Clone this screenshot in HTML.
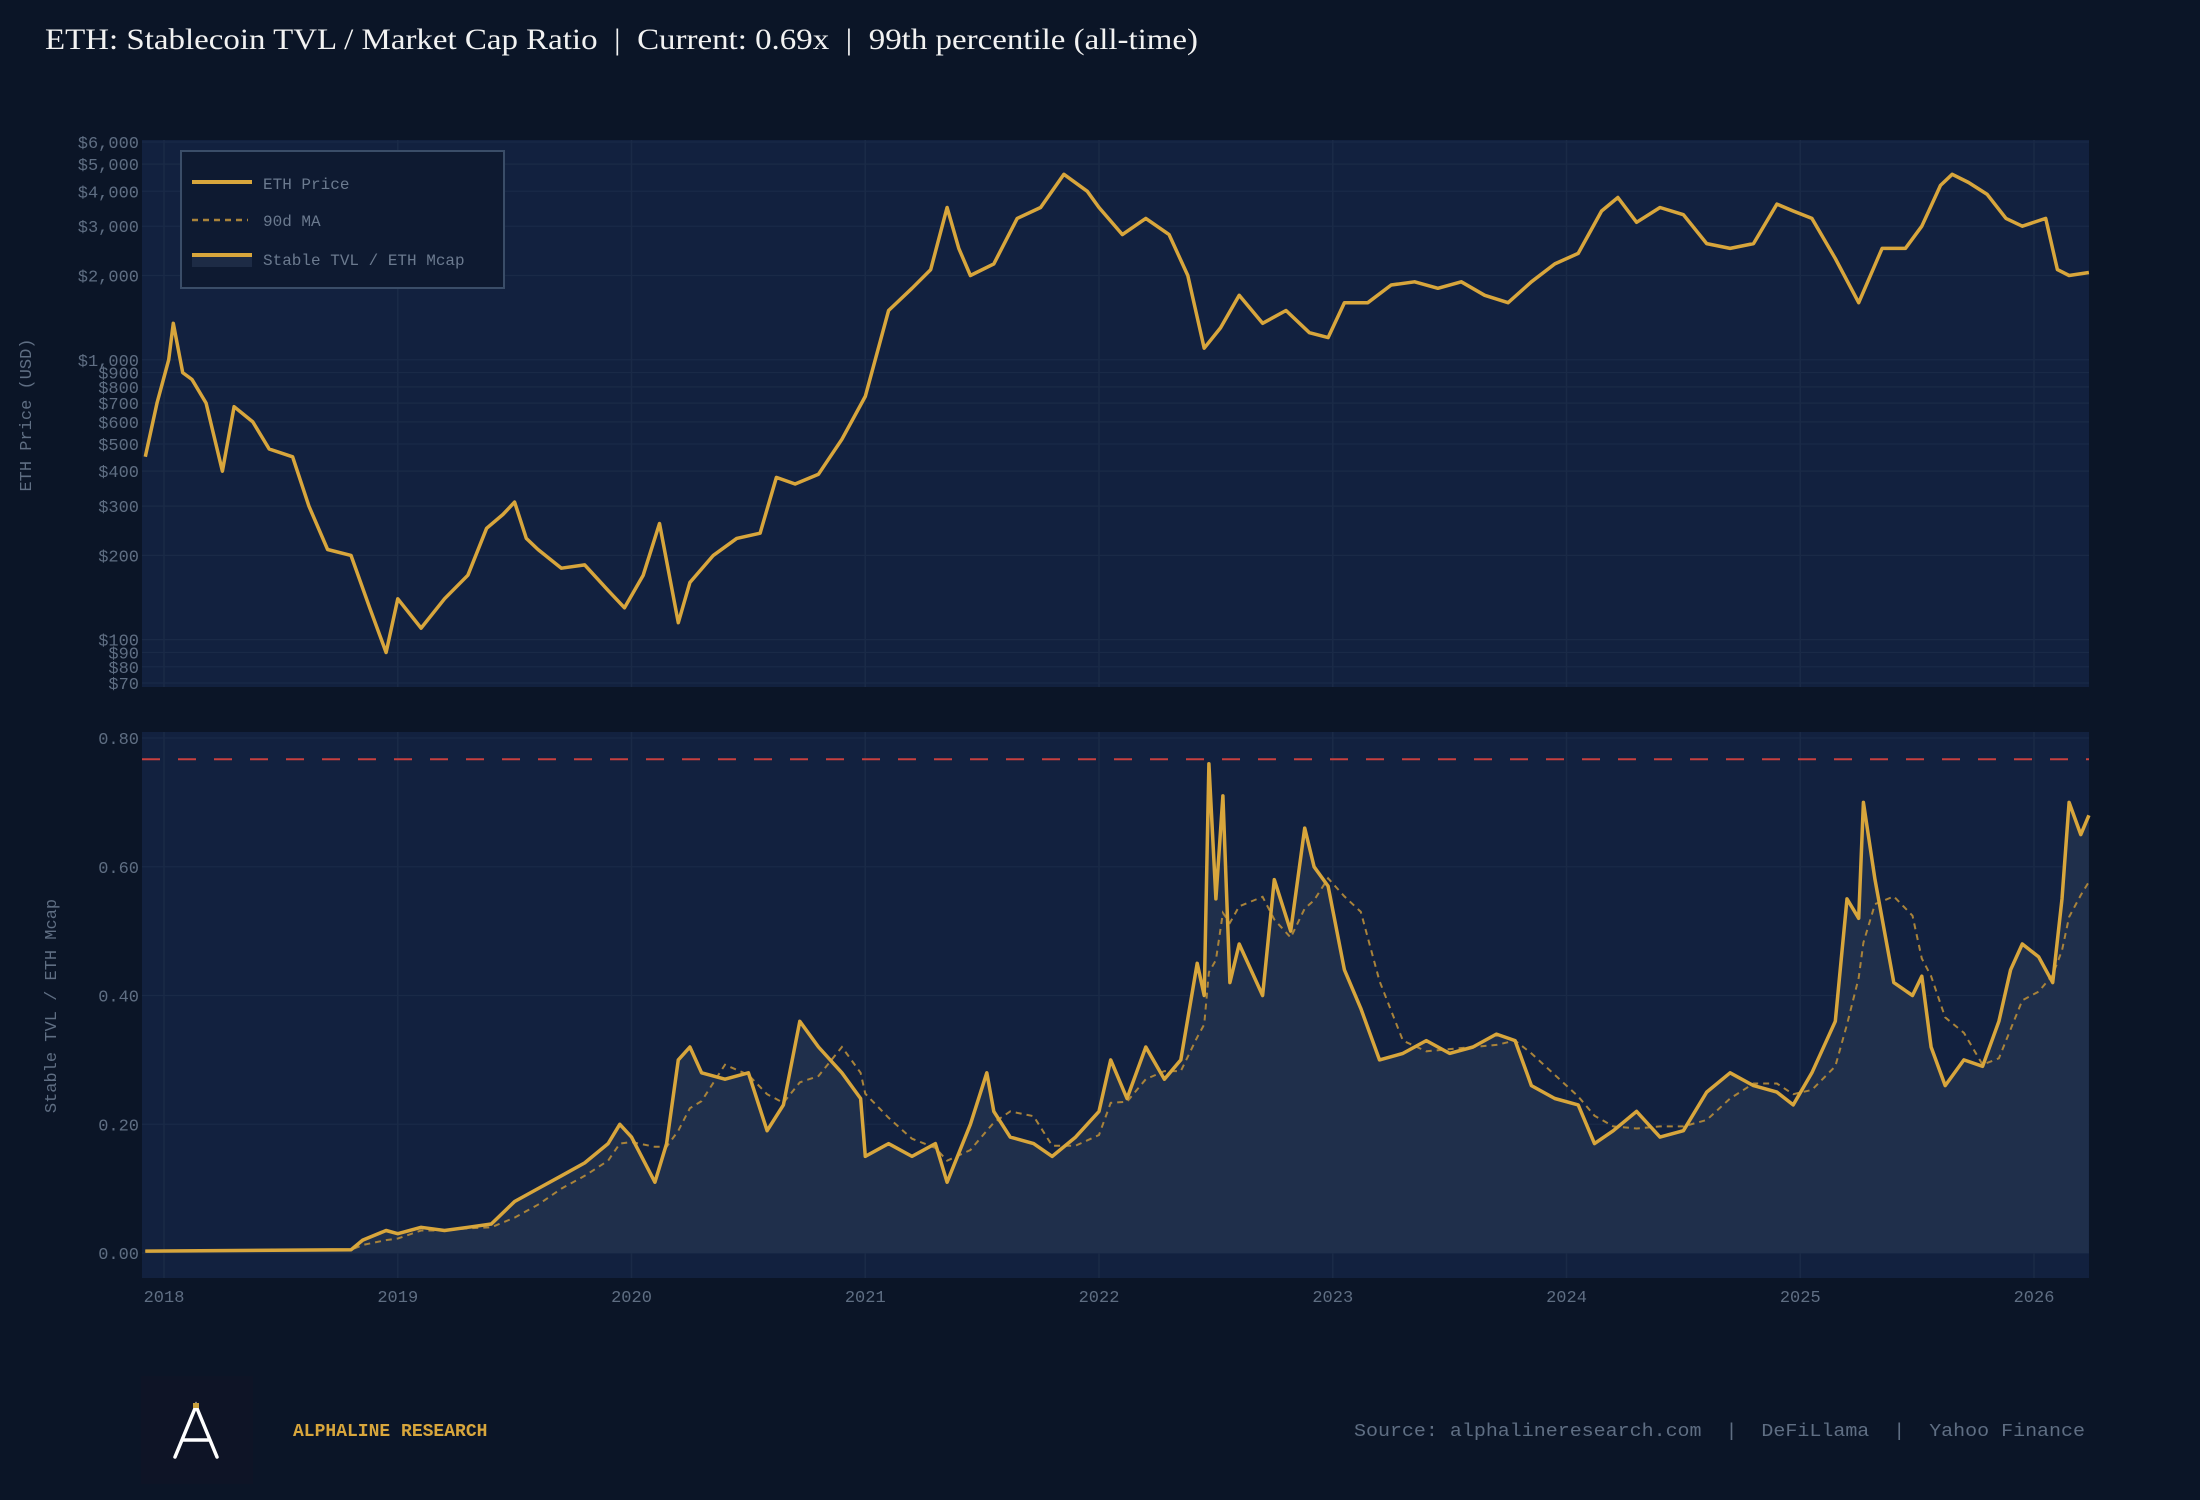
<!DOCTYPE html>
<html><head><meta charset="utf-8"><style>
html,body{margin:0;padding:0;background:#0b1527;}
svg{display:block;}
text{font-family:"Liberation Mono",monospace;}
.pre{white-space:pre;}
</style></head><body>
<svg id="chart" width="2200" height="1500" viewBox="0 0 2200 1500" xmlns="http://www.w3.org/2000/svg">
<rect x="0" y="0" width="2200" height="1500" fill="#0b1527"/>
<text class="pre" x="45" y="49" font-size="30" fill="#f2f2f2" textLength="1153" lengthAdjust="spacingAndGlyphs" style="font-family:'Liberation Serif',serif">ETH: Stablecoin TVL / Market Cap Ratio  |  Current: 0.69x  |  99th percentile (all-time)</text>
<rect x="142" y="140" width="1947" height="547" fill="#12213f"/>
<rect x="142" y="732" width="1947" height="546" fill="#12213f"/>
<g id="grid"></g>
<g id="axes"></g>
<g id="series"></g>
<text transform="translate(31,415) rotate(-90)" text-anchor="middle" font-size="17" fill="#5f6e83">ETH Price (USD)</text>
<text transform="translate(56,1006) rotate(-90)" text-anchor="middle" font-size="17" fill="#5f6e83">Stable TVL / ETH Mcap</text>
<g>
<rect x="181" y="151" width="323" height="137" fill="#0e1a31" stroke="#3a4d68" stroke-width="2"/>
<line x1="192" y1="182" x2="252" y2="182" stroke="#d8a63c" stroke-width="4"/>
<text x="263" y="189" font-size="16" fill="#6b7a8f">ETH Price</text>
<line x1="192" y1="220" x2="248" y2="220" stroke="#a9833a" stroke-width="2.5" stroke-dasharray="6,5"/>
<text x="263" y="226" font-size="16" fill="#6b7a8f">90d MA</text>
<rect x="192" y="255" width="60" height="12" fill="#1d2b45"/>
<line x1="192" y1="255" x2="252" y2="255" stroke="#d8a63c" stroke-width="4"/>
<text x="263" y="265" font-size="16" fill="#6b7a8f">Stable TVL / ETH Mcap</text>
</g>
<g>
<rect x="141" y="1376" width="112" height="108" fill="#0e1426"/>
<path d="M175 1457 L196 1406 L217 1457 M182 1440 L210 1440" stroke="#ffffff" stroke-width="3.5" fill="none" stroke-linecap="round"/>
<rect x="193" y="1403" width="6" height="5" fill="#c9a13e"/>
<text x="293" y="1436" font-size="18" font-weight="bold" fill="#d8a63c">ALPHALINE RESEARCH</text>
<text class="pre" x="1354" y="1436" font-size="18" fill="#5f6e83" textLength="731" lengthAdjust="spacingAndGlyphs">Source: alphalineresearch.com  |  DeFiLlama  |  Yahoo Finance</text>
</g>
</svg>
<script>
const priceDates=[2017.92,2017.97,2018.02,2018.04,2018.08,2018.12,2018.18,2018.25,2018.3,2018.38,2018.45,2018.55,2018.62,2018.7,2018.8,2018.88,2018.95,2019.0,2019.1,2019.2,2019.3,2019.38,2019.45,2019.5,2019.55,2019.6,2019.7,2019.8,2019.9,2019.97,2020.05,2020.12,2020.2,2020.25,2020.35,2020.45,2020.55,2020.62,2020.7,2020.8,2020.9,2021.0,2021.1,2021.2,2021.28,2021.35,2021.4,2021.45,2021.55,2021.65,2021.75,2021.85,2021.95,2022.0,2022.1,2022.2,2022.3,2022.38,2022.45,2022.52,2022.6,2022.7,2022.8,2022.9,2022.98,2023.05,2023.15,2023.25,2023.35,2023.45,2023.55,2023.65,2023.75,2023.85,2023.95,2024.05,2024.15,2024.22,2024.3,2024.4,2024.5,2024.6,2024.7,2024.8,2024.9,2024.97,2025.05,2025.15,2025.25,2025.35,2025.45,2025.52,2025.6,2025.65,2025.72,2025.8,2025.88,2025.95,2026.05,2026.1,2026.15,2026.235];
const priceValues=[450,700,1000,1350,900,850,700,400,680,600,480,450,300,210,200,130,90,140,110,140,170,250,280,310,230,210,180,185,150,130,170,260,115,160,200,230,240,380,360,390,520,740,1500,1800,2100,3500,2500,2000,2200,3200,3500,4600,4000,3500,2800,3200,2800,2000,1100,1300,1700,1350,1500,1250,1200,1600,1600,1850,1900,1800,1900,1700,1600,1900,2200,2400,3400,3800,3100,3500,3300,2600,2500,2600,3600,3400,3200,2300,1600,2500,2500,3000,4200,4600,4300,3900,3200,3000,3200,2100,2000,2050];
const ratioDates=[2017.92,2018.8,2018.85,2018.95,2019.0,2019.1,2019.2,2019.3,2019.4,2019.5,2019.6,2019.7,2019.8,2019.9,2019.95,2020.0,2020.1,2020.15,2020.2,2020.25,2020.3,2020.4,2020.5,2020.58,2020.65,2020.72,2020.8,2020.9,2020.98,2021.0,2021.1,2021.2,2021.3,2021.35,2021.45,2021.52,2021.55,2021.62,2021.72,2021.8,2021.9,2022.0,2022.05,2022.12,2022.2,2022.28,2022.35,2022.42,2022.45,2022.47,2022.5,2022.53,2022.56,2022.6,2022.7,2022.75,2022.82,2022.88,2022.92,2022.98,2023.05,2023.12,2023.2,2023.3,2023.4,2023.5,2023.6,2023.7,2023.78,2023.85,2023.95,2024.05,2024.12,2024.2,2024.3,2024.4,2024.5,2024.6,2024.7,2024.8,2024.9,2024.97,2025.05,2025.15,2025.2,2025.25,2025.27,2025.32,2025.4,2025.48,2025.52,2025.56,2025.62,2025.7,2025.78,2025.85,2025.9,2025.95,2026.02,2026.08,2026.12,2026.15,2026.2,2026.235];
const ratioValues=[0.003,0.005,0.02,0.035,0.03,0.04,0.035,0.04,0.045,0.08,0.1,0.12,0.14,0.17,0.2,0.18,0.11,0.17,0.3,0.32,0.28,0.27,0.28,0.19,0.23,0.36,0.32,0.28,0.24,0.15,0.17,0.15,0.17,0.11,0.2,0.28,0.22,0.18,0.17,0.15,0.18,0.22,0.3,0.24,0.32,0.27,0.3,0.45,0.4,0.76,0.55,0.71,0.42,0.48,0.4,0.58,0.5,0.66,0.6,0.57,0.44,0.38,0.3,0.31,0.33,0.31,0.32,0.34,0.33,0.26,0.24,0.23,0.17,0.19,0.22,0.18,0.19,0.25,0.28,0.26,0.25,0.23,0.28,0.36,0.55,0.52,0.7,0.58,0.42,0.4,0.43,0.32,0.26,0.3,0.29,0.36,0.44,0.48,0.46,0.42,0.55,0.7,0.65,0.68];
const priceTicks=[6000,5000,4000,3000,2000,1000,900,800,700,600,500,400,300,200,100,90,80,70];
const ratioTicks=[0,0.2,0.4,0.6,0.8];
const yearTicks=[2018,2019,2020,2021,2022,2023,2024,2025,2026];
const thresholdValue=0.767;

const NS="http://www.w3.org/2000/svg";
const PX0=142,PX1=2089;
function xScale(t){return 164+(t-2018)*233.75;}
const LMAX=Math.log10(6000),LMIN=Math.log10(70);
function yPrice(v){return 142+(LMAX-Math.log10(v))/(LMAX-LMIN)*541;}
function yRatio(v){return 1253-v/0.8*515;}
function mk(tag,attrs,parent){const e=document.createElementNS(NS,tag);for(const k in attrs)e.setAttribute(k,attrs[k]);parent.appendChild(e);return e;}
const grid=document.getElementById('grid'),axes=document.getElementById('axes'),series=document.getElementById('series');

yearTicks.forEach(function(yr){
  const x=xScale(yr);
  const g1=mk('line',{x1:x,x2:x,y1:140,y2:687,stroke:'#1a2a47','stroke-width':1.5},grid);
  
  
  const g2=mk('line',{x1:x,x2:x,y1:732,y2:1278,stroke:'#1a2a47','stroke-width':1.5},grid);
  
  
  const t=mk('text',{x:x,y:1302,'text-anchor':'middle','font-size':17,fill:'#5f6e83'},axes);
  t.textContent=String(yr);
  
  
});
priceTicks.forEach(function(v){
  const y=yPrice(v);
  const g=mk('line',{x1:PX0,x2:PX1,y1:y,y2:y,stroke:'#1a2a47','stroke-width':1.2},grid);
  
  
  const t=mk('text',{x:139,y:y+6,'text-anchor':'end','font-size':17,fill:'#5f6e83'},axes);
  t.textContent='$'+v.toLocaleString('en-US');
  
  
});
ratioTicks.forEach(function(v){
  const y=yRatio(v);
  const g=mk('line',{x1:PX0,x2:PX1,y1:y,y2:y,stroke:'#1a2a47','stroke-width':1.2},grid);
  
  
  const t=mk('text',{x:139,y:y+6,'text-anchor':'end','font-size':17,fill:'#5f6e83'},axes);
  t.textContent=v.toFixed(2);
  
  
});

let pd='';
priceDates.forEach(function(d,i){pd+=(i?'L':'M')+xScale(d).toFixed(1)+' '+yPrice(priceValues[i]).toFixed(1);});
const pl=mk('path',{d:pd,fill:'none',stroke:'#d8a63c','stroke-width':3.5,'stroke-linejoin':'round'},series);



let rd='';
ratioDates.forEach(function(d,i){rd+=(i?'L':'M')+xScale(d).toFixed(1)+' '+yRatio(ratioValues[i]).toFixed(1);});
const last=ratioDates.length-1;
const area=mk('path',{d:rd+'L'+xScale(ratioDates[last]).toFixed(1)+' '+yRatio(0)+'L'+xScale(ratioDates[0]).toFixed(1)+' '+yRatio(0)+'Z',fill:'#1f2f4b'},series);



let md='';
ratioDates.forEach(function(d,i){
  let s=0,n=0;
  for(let j=0;j<=i;j++){if(d-ratioDates[j]<=0.2466){s+=ratioValues[j];n++;}}
  md+=(i?'L':'M')+xScale(d).toFixed(1)+' '+yRatio(s/n).toFixed(1);
});
const ma=mk('path',{d:md,fill:'none',stroke:'#a9833a','stroke-width':2,'stroke-dasharray':'6,5'},series);



const rl=mk('path',{d:rd,fill:'none',stroke:'#d8a63c','stroke-width':3.5,'stroke-linejoin':'round'},series);



const th=mk('line',{x1:PX0,x2:PX1,y1:yRatio(thresholdValue),y2:yRatio(thresholdValue),stroke:'#c8403f','stroke-width':2,'stroke-dasharray':'18,18'},series);


</script>
</body></html>
